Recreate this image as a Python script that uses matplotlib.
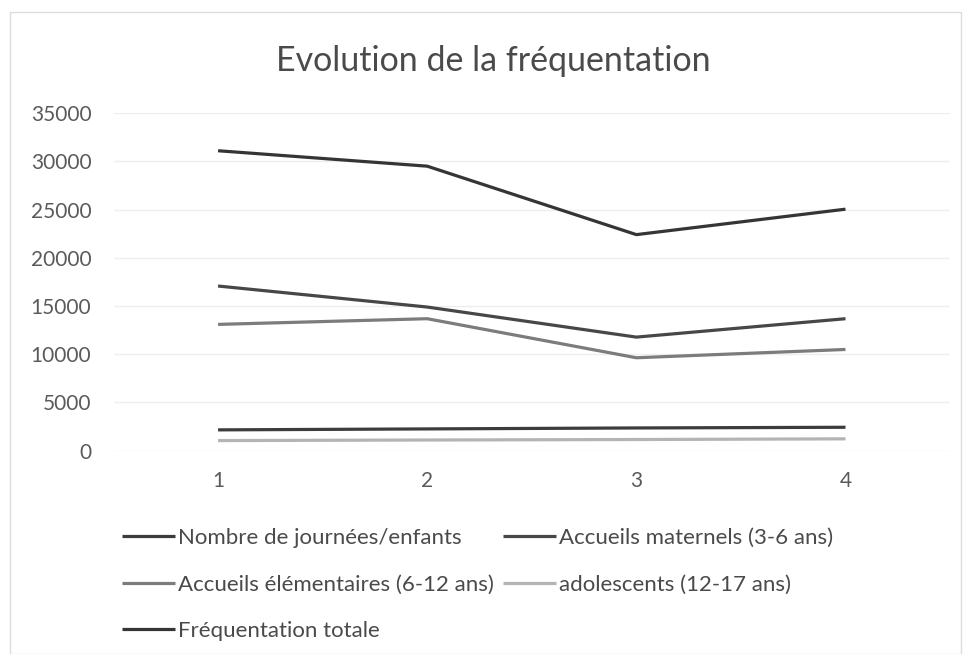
"""
Evolution de la fréquentation — scanned Excel line chart, redrawn.
"""
import matplotlib
matplotlib.use("Agg")
import matplotlib.pyplot as plt
from matplotlib.patches import Rectangle

plt.rcParams["font.family"] = ["Lato", "DejaVu Sans"]

# ── data ──
PERIODS = [1, 2, 3, 4]
journees = [2150, 2250, 2350, 2420]
maternels = [17070, 14890, 11770, 13680]
elementaires = [13090, 13680, 9630, 10490]
adolescents = [1040, 1100, 1150, 1220]
total = [31100, 29500, 22400, 25040]

LABELS = ["Nombre de journées/enfants", "Accueils maternels (3-6 ans)",
          "Accueils élémentaires (6-12 ans)", "adolescents (12-17 ans)",
          "Fréquentation totale"]
SERIES = [journees, maternels, elementaires, adolescents, total]
COLORS = ["#3c3c3c", "#474747", "#7c7c7c", "#b4b4b4", "#353535"]
Y_TICKS = [0, 5000, 10000, 15000, 20000, 25000, 30000, 35000]

fig = plt.figure(figsize=(9.66, 6.54), dpi=100)
ax = fig.add_axes([0.1175, 0.311, 0.866, 0.516])

handles = []
for vals, lab, col in zip(SERIES, LABELS, COLORS):
    h, = ax.plot(PERIODS, vals, color=col, lw=2.3, label=lab,
                 solid_capstyle="butt")
    handles.append(h)

ax.set_xlim(0.5, 4.5)
ax.set_ylim(0, 35000)
ax.set_yticks(Y_TICKS)
ax.set_xticks(PERIODS)
ax.grid(axis="y", color="#eeeeee", lw=1.0)
ax.set_axisbelow(True)
for s in ax.spines.values():
    s.set_visible(False)
ax.tick_params(length=0, labelsize=15, colors="#5a5a5a")
ax.tick_params(axis="y", pad=16)
ax.tick_params(axis="x", pad=15)

fig.text(0.511, 0.907, "Evolution de la fréquentation", ha="center",
         va="center", fontsize=24.5, color="#4a4a4a")

# row-major order in a 2-col legend
order = [0, 2, 4, 1, 3]
leg = fig.legend([handles[i] for i in order], [LABELS[i] for i in order],
                 ncol=2, loc="upper left", bbox_to_anchor=(0.1263, 0.193),
                 frameon=False, fontsize=16, handlelength=2.4,
                 handletextpad=0.12, labelspacing=1.2, columnspacing=0.4,
                 borderaxespad=0, borderpad=0)
for t in leg.get_texts():
    t.set_color("#4a4a4a")

fig.patches.append(Rectangle((0.01, 0.0), 0.985, 0.982, transform=fig.transFigure,
                             fill=False, edgecolor="#dddddd", lw=1.0))

fig.savefig("out.png", dpi=100)
